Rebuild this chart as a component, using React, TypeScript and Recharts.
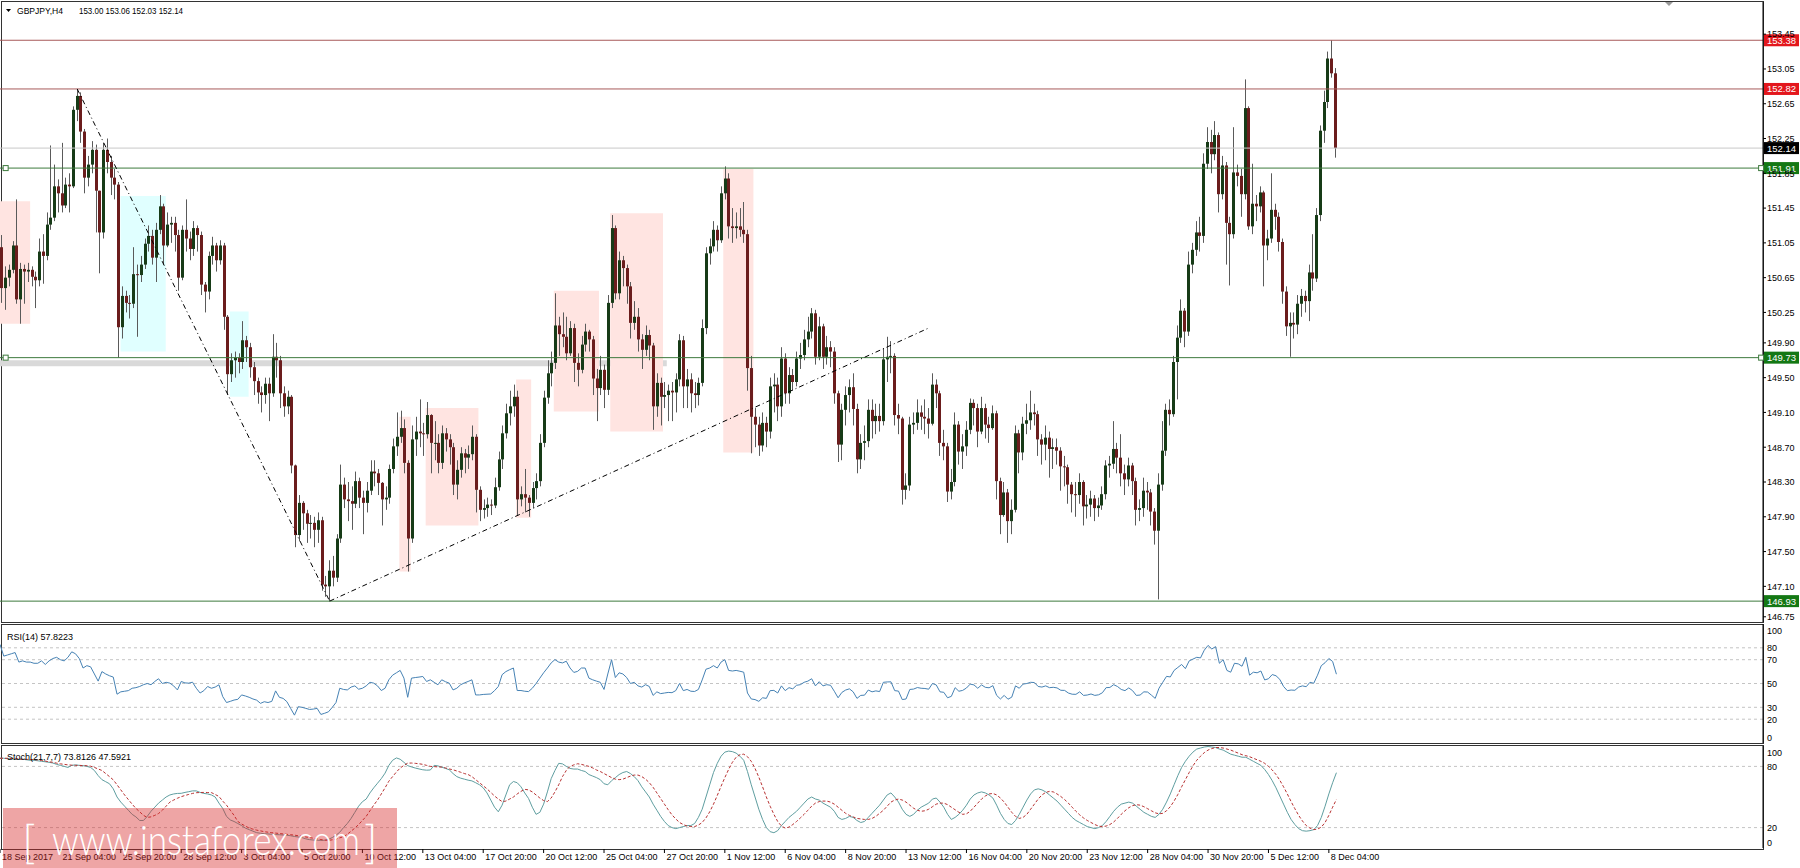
import React from "react";
import {
  ComposedChart,
  Bar,
  Line,
  XAxis,
  YAxis,
  ReferenceLine,
  ReferenceArea,
  ReferenceDot,
} from "recharts";

// GBPJPY H4, 18 Sep - 8 Dec 2017, MT4-style chart with RSI(14) and Stoch(21,7,7)

const FONT = "'Liberation Sans', Tahoma, Arial, sans-serif";
const SLOTS = 468; // bar slots across the plot, the right part stays empty
const BULL = "#173b17";
const BEAR = "#6b1d1d";
const WICK = "#5a5a5a";

const firstOpen = 151.0;

const closes = [
  150.53, 150.65, 150.74, 151.02, 150.40, 150.75, 150.72, 150.74, 150.66, 150.62,
  150.95, 150.90, 151.26, 151.34, 151.70, 151.62, 151.48, 151.72, 151.70, 152.58,
  152.74, 152.33, 151.80, 151.95, 152.12, 151.65, 151.17, 152.12, 151.98, 151.80,
  151.72, 150.08, 150.44, 150.36, 150.35, 150.69, 150.68, 150.80, 151.04, 151.13,
  150.88, 151.20, 151.47, 151.02, 151.26, 151.28, 151.14, 150.65, 151.20, 151.10,
  150.98, 151.22, 151.14, 150.57, 150.49, 150.90, 151.02, 150.85, 151.02, 150.20,
  149.54, 149.70, 149.73, 149.68, 149.93, 149.85, 149.62, 149.46, 149.33, 149.30,
  149.43, 149.32, 149.74, 149.70, 149.32, 149.17, 149.28, 148.49, 147.69, 148.06,
  147.94, 147.82, 147.83, 147.75, 147.86, 147.12, 147.10, 147.28, 147.20, 147.65,
  148.27, 148.10, 148.08, 148.05, 148.31, 148.12, 148.06, 148.20, 148.42, 148.40,
  148.29, 148.10, 148.12, 148.45, 148.71, 148.82, 148.92, 148.52, 147.65, 148.79,
  148.88, 148.86, 148.85, 149.07, 148.75, 148.75, 148.52, 148.86, 148.79, 148.70,
  148.27, 148.44, 148.63, 148.58, 148.62, 148.82, 148.21, 147.98, 148.00, 148.04,
  148.03, 148.24, 148.56, 148.86, 149.09, 149.17, 149.28, 148.10, 148.16, 148.12,
  148.06, 148.23, 148.31, 148.75, 149.27, 149.55, 149.67, 150.10, 150.00, 149.97,
  149.78, 150.07, 149.67, 149.59, 149.88, 150.03, 149.94, 149.49, 149.38, 149.59,
  149.36, 150.36, 151.22, 150.47, 150.85, 150.76, 150.55, 150.13, 150.20, 149.94,
  149.82, 149.99, 149.87, 149.17, 149.44, 149.28, 149.30, 149.35, 149.33, 149.48,
  149.93, 149.40, 149.48, 149.32, 149.30, 149.44, 150.07, 150.93, 151.01, 151.20,
  151.08, 151.62, 151.79, 151.24, 151.22, 151.24, 151.20, 151.15, 149.61, 149.05,
  148.96, 148.72, 148.98, 148.88, 149.40, 149.42, 149.17, 149.72, 149.32, 149.53,
  149.45, 149.72, 149.76, 149.94, 150.03, 150.24, 149.74, 150.09, 149.74, 149.85,
  149.80, 149.32, 148.73, 149.13, 149.30, 149.39, 149.14, 148.56, 148.75, 148.77,
  149.13, 149.00, 149.06, 149.00, 149.71, 149.74, 149.75, 149.07, 149.03, 148.21,
  148.26, 148.96, 148.98, 149.10, 149.05, 149.03, 148.97, 149.42, 149.32, 148.75,
  148.71, 148.19, 148.30, 148.96, 148.65, 148.71, 148.90, 149.21, 149.15, 148.88,
  149.15, 148.96, 148.92, 149.09, 148.31, 147.92, 148.18, 147.85, 147.98, 148.86,
  148.64, 148.97, 149.01, 149.10, 149.08, 148.79, 148.73, 148.81, 148.68, 148.70,
  148.66, 148.48, 148.47, 148.27, 148.16, 148.15, 148.30, 148.02, 148.04, 148.11,
  148.00, 148.03, 148.16, 148.49, 148.51, 148.68, 148.58, 148.40, 148.33, 148.49,
  148.31, 147.98, 148.00, 148.20, 148.18, 147.96, 147.74, 148.27, 148.66, 149.13,
  149.08, 149.68, 149.96, 150.27, 150.03, 150.80, 150.97, 151.17, 151.13, 151.96,
  152.21, 152.07, 152.29, 151.61, 151.94, 151.28, 151.15, 151.86, 151.82, 151.61,
  152.60, 151.24, 151.50, 151.47, 151.63, 151.02, 151.10, 151.43, 151.35, 151.06,
  150.49, 150.09, 150.13, 150.11, 150.35, 150.44, 150.38, 150.71, 150.64, 151.37,
  152.34, 152.67, 153.17, 153.00, 152.14,
];

const highs = [
  151.14, 150.78, 150.80, 151.07, 151.55, 150.82, 150.80, 150.82, 150.78, 150.72,
  151.10, 151.15, 151.40, 152.17, 151.95, 151.78, 152.20, 151.80, 151.85, 152.62,
  152.82, 152.78, 152.36, 152.05, 152.22, 152.18, 151.65, 152.20, 152.25, 152.05,
  151.90, 151.75, 150.55, 150.50, 150.45, 151.00, 150.80, 150.90, 151.10, 151.25,
  151.20, 151.28, 151.60, 151.50, 151.40, 151.35, 151.35, 151.20, 151.25, 151.55,
  151.18, 151.30, 151.25, 151.18, 150.60, 150.95, 151.12, 151.05, 151.08, 151.05,
  150.22, 149.78, 149.80, 149.78, 150.15, 149.98, 149.90, 149.68, 149.50, 149.40,
  149.50, 149.50, 150.00, 149.90, 149.75, 149.40, 149.35, 149.30, 148.50, 148.15,
  148.08, 147.98, 147.92, 147.90, 147.95, 147.90, 147.22, 147.40, 147.45, 147.70,
  148.50, 148.35, 148.30, 148.25, 148.42, 148.35, 148.20, 148.30, 148.55, 148.55,
  148.45, 148.30, 148.25, 148.50, 148.80, 149.10, 149.12, 149.02, 148.55, 148.95,
  149.05, 149.25, 148.98, 149.22, 149.08, 149.00, 148.85, 148.95, 148.92, 148.85,
  148.75, 148.55, 148.70, 148.68, 148.72, 148.95, 148.85, 148.25, 148.10, 148.12,
  148.10, 148.35, 148.65, 148.95, 149.20, 149.35, 149.42, 149.35, 148.25, 148.45,
  148.15, 148.30, 148.40, 148.85, 149.35, 149.70, 149.80, 150.47, 150.20, 150.25,
  150.20, 150.15, 150.12, 149.78, 149.98, 150.12, 150.05, 149.98, 149.60, 149.75,
  149.65, 150.45, 151.37, 151.25, 150.95, 150.90, 150.80, 150.60, 150.38, 150.30,
  150.00, 150.10, 150.05, 149.90, 149.55, 149.50, 149.45, 149.42, 149.45, 149.55,
  150.00, 149.98, 149.60, 149.55, 149.45, 149.50, 150.17, 151.00, 151.10, 151.30,
  151.25, 151.70, 151.93, 151.85, 151.45, 151.40, 151.45, 151.52, 151.20, 149.75,
  149.15, 149.05, 149.10, 149.05, 149.50, 149.55, 149.50, 149.85, 149.78, 149.62,
  149.60, 149.80, 149.90, 150.05, 150.20, 150.30, 150.28, 150.20, 150.12, 149.98,
  149.92, 149.85, 149.35, 149.20, 149.40, 149.48, 149.55, 149.20, 148.85, 148.95,
  149.25, 149.25, 149.20, 149.20, 149.84, 149.97, 149.92, 149.78, 149.20, 149.05,
  148.40, 149.05, 149.10, 149.25, 149.18, 149.25, 149.15, 149.55, 149.48, 149.35,
  148.90, 148.75, 148.45, 149.10, 149.00, 148.85, 149.00, 149.26, 149.25, 149.20,
  149.28, 149.20, 149.05, 149.18, 149.12, 148.35, 148.30, 148.22, 148.10, 148.95,
  148.90, 149.05, 149.20, 149.35, 149.20, 149.12, 148.85, 148.95, 148.88, 148.80,
  148.80, 148.70, 148.60, 148.50, 148.30, 148.30, 148.40, 148.32, 148.15, 148.20,
  148.15, 148.12, 148.25, 148.55, 148.60, 149.00, 148.75, 148.85, 148.50, 148.58,
  148.52, 148.35, 148.10, 148.35, 148.30, 148.22, 148.00, 148.40, 149.00, 149.20,
  149.25, 149.75, 150.10, 150.40, 150.30, 150.95, 151.05, 151.30, 151.35, 152.08,
  152.38, 152.35, 152.45, 152.32, 152.05, 151.98, 151.35, 152.38, 151.95, 151.90,
  152.93, 152.62, 151.96, 151.60, 151.70, 151.65, 151.20, 151.85, 151.50, 151.40,
  151.10, 150.55, 150.25, 150.25, 150.45, 150.52, 150.50, 150.80, 151.15, 151.45,
  152.40, 152.80, 153.25, 153.38, 153.06,
];

const lows = [
  150.36, 150.28, 150.55, 150.70, 150.35, 150.12, 150.35, 150.60, 150.55, 150.30,
  150.55, 150.58, 150.85, 151.20, 151.30, 151.40, 151.40, 151.45, 151.40, 151.68,
  152.45, 152.20, 151.62, 151.70, 151.85, 151.17, 150.70, 151.10, 151.85, 151.60,
  151.55, 149.73, 149.95, 150.25, 150.18, 150.30, 149.97, 150.60, 150.75, 150.95,
  150.80, 150.60, 151.15, 150.80, 151.00, 151.05, 150.95, 150.50, 150.62, 150.95,
  150.85, 150.90, 150.95, 150.45, 150.25, 150.40, 150.80, 150.72, 150.80, 150.05,
  149.30, 149.45, 149.50, 149.55, 149.60, 149.68, 149.50, 149.30, 149.20, 149.10,
  149.20, 149.00, 149.28, 149.50, 149.15, 149.05, 149.08, 148.40, 147.55, 147.62,
  147.75, 147.60, 147.65, 147.55, 147.60, 147.05, 146.98, 146.93, 147.10, 147.15,
  147.60, 148.00, 147.85, 147.75, 148.00, 148.00, 147.70, 147.95, 148.15, 148.25,
  148.15, 147.80, 147.98, 148.05, 148.40, 148.60, 148.75, 148.40, 147.27, 147.60,
  148.60, 148.70, 148.60, 148.80, 148.40, 148.55, 148.40, 148.45, 148.65, 148.50,
  148.15, 148.10, 148.35, 148.40, 148.45, 148.55, 147.95, 147.85, 147.88, 147.90,
  147.92, 148.00, 148.20, 148.45, 148.80, 148.95, 149.05, 147.92, 148.02, 147.95,
  147.90, 148.00, 148.10, 148.25, 148.70, 149.20, 149.40, 149.60, 149.75, 149.85,
  149.70, 149.75, 149.45, 149.40, 149.55, 149.80, 149.80, 149.30, 149.00, 149.30,
  149.15, 149.30, 150.30, 150.40, 150.40, 150.55, 150.35, 149.95, 150.05, 149.80,
  149.60, 149.75, 149.70, 148.90, 149.05, 148.95, 149.15, 149.00, 149.00, 149.10,
  149.40, 149.15, 149.15, 149.10, 149.15, 149.18, 149.40, 150.00, 150.80, 150.95,
  150.95, 151.05, 151.55, 151.10, 151.05, 151.10, 151.12, 151.05, 149.35, 148.63,
  148.70, 148.60, 148.65, 148.70, 148.80, 149.10, 149.00, 149.05, 149.20, 149.20,
  149.35, 149.40, 149.60, 149.70, 149.85, 149.95, 149.65, 149.70, 149.60, 149.65,
  149.62, 149.20, 148.53, 148.55, 148.95, 149.10, 148.95, 148.40, 148.45, 148.55,
  148.70, 148.80, 148.85, 148.88, 148.95, 149.45, 149.55, 148.95, 148.85, 148.04,
  148.10, 148.20, 148.85, 148.90, 148.90, 148.85, 148.80, 148.95, 149.15, 148.60,
  148.55, 148.07, 148.10, 148.25, 148.50, 148.45, 148.60, 148.85, 148.95, 148.70,
  148.85, 148.80, 148.75, 148.90, 148.10, 147.70, 147.90, 147.60, 147.70, 147.95,
  148.40, 148.55, 148.85, 148.90, 148.95, 148.60, 148.50, 148.55, 148.35, 148.45,
  148.50, 148.20, 148.25, 148.05, 147.95, 147.90, 148.05, 147.80, 147.88, 147.90,
  147.85, 147.90, 147.98, 148.10, 148.35, 148.45, 148.40, 148.25, 148.15, 148.25,
  148.15, 147.80, 147.85, 147.90, 147.98, 147.80, 147.58, 146.95, 148.20, 148.60,
  148.95, 149.05, 149.25, 149.90, 149.85, 149.98, 150.70, 150.90, 150.95, 151.05,
  151.90, 151.85, 152.00, 151.40, 151.55, 150.80, 150.56, 151.10, 151.70, 151.35,
  151.55, 151.20, 151.15, 151.30, 151.40, 150.55, 150.85, 151.05, 151.20, 150.95,
  150.35, 149.98, 149.74, 149.95, 150.00, 150.20, 150.25, 150.15, 150.50, 150.60,
  151.30, 152.20, 152.60, 152.95, 152.03,
];

const rsiValues = [
  82.8, 73, 74, 75, 76, 68, 69, 68, 68, 67,
  67, 69, 66, 69, 71, 72, 70, 69, 72, 76.6,
  75, 71, 63, 65, 64, 58, 52, 60, 58, 56.5,
  55.4, 41, 43, 43.5, 44, 46, 46.5, 47.5, 49, 50,
  49, 51.7, 54, 50, 51, 50.3, 48, 44.6, 51.7, 50.5,
  50.3, 51.1, 46, 42, 44, 47.5, 46, 47, 48.9, 39,
  34, 35, 36.1, 36.7, 40.4, 39.5, 38.4, 37, 36, 33.3,
  34.7, 34, 35, 43.8, 38.4, 37.5, 34.7, 29, 23.4, 30.5,
  30, 29.1, 28.2, 28.5, 29.1, 24, 25, 26.2, 29.9, 34,
  46, 45, 44.6, 47, 48, 45.2, 46, 48, 51, 50.3,
  48, 44.1, 46, 53.1, 57, 59, 61, 54.5, 38.4, 54.5,
  55, 55.4, 55.9, 51.7, 53.1, 51, 48.9, 53.1, 51.5, 50.3,
  44.6, 46, 48.9, 50.5, 51.7, 53.1, 40.4, 40.4, 40.8, 41,
  41.2, 44, 47.5, 57.4, 60, 61.6, 63, 44.1, 44.1, 43.5,
  43.2, 46, 50, 54.5, 59, 63, 67.3, 70.1, 68, 67.3,
  68.7, 63, 59.3, 60.2, 63, 63, 54.5, 53.1, 52, 51,
  45, 58, 70, 55, 59, 58, 55, 50, 51, 48,
  47, 49, 47.5, 40, 43, 41.5, 42, 42.5, 42.3, 44,
  50, 44, 45, 43.5, 43.3, 45, 53, 62, 63, 65,
  63, 68, 70, 61, 60.5, 61, 60.3, 59.5, 42, 37,
  36.5, 35, 38, 37.5, 44, 44.2, 42, 48, 44, 46.5,
  45.5, 48.5, 49, 51, 52, 54, 48, 51.5, 48, 49,
  48.5, 43.5, 38, 42.5, 44.5, 45.5, 43, 37.5, 40, 40.2,
  44.5, 43, 43.8, 43.2, 51, 51.3, 51.4, 44, 43.6, 36.5,
  37, 45, 45.3, 46.6, 46, 45.8, 45.2, 50, 48.8, 43,
  42.6, 38, 39.2, 46.5, 43.5, 44.2, 46.2, 49.5, 48.8, 46,
  48.8, 46.8, 46.4, 48.2, 40, 37, 40, 36.8, 38.5, 48,
  46, 49.5, 50, 51, 50.8, 47.5, 47, 48, 46.5, 46.8,
  46.3, 44.3, 44.2, 42, 41, 40.9, 43, 40, 40.3, 41.2,
  40, 40.5, 42.2, 46.5, 46.7, 49, 47.5, 45, 44, 46.3,
  44, 40, 40.3, 43, 42.8, 40.2, 37.5, 46, 51, 56,
  55.5, 61, 63.5, 66, 62.5, 69, 70.5, 72, 71.5, 78,
  82, 79, 81, 67, 70, 61, 59.5, 67, 66.5, 64.5,
  72, 57, 59.5, 59, 60.5, 53, 54, 57.5, 56.5, 53.5,
  47.5, 44, 44.5, 44.3, 47, 48, 47.3, 51, 50.2, 57,
  65, 67.5, 71, 68.5, 57.82,
];

const stochMain = [
  88, 88, 87.5, 87.5, 87, 87, 87, 86.5, 86, 86,
  85.5, 85, 84.5, 84, 83.3, 82, 81, 80, 79, 81,
  81.5, 81, 80.7, 80, 79, 76, 71, 67, 65, 63,
  58, 50, 45, 41, 37, 33, 30.5, 27, 27, 31,
  36, 40, 44, 47, 50, 52, 53, 53.5, 53.6, 54.5,
  55.2, 56, 56, 54.5, 53.5, 53, 52, 50, 44, 38.8,
  31, 27.5, 26, 24, 22, 19.5, 18, 16.5, 15, 14.5,
  14, 13.8, 13.5, 13.2, 13, 12.7, 12.5, 12, 11.3, 10.8,
  10.2, 9, 8.2, 7.8, 7.6, 7.5, 7.6, 8.5, 10.2, 12.5,
  15.5, 20, 24, 29, 35, 41, 45.4, 48, 54, 59,
  63.5, 68, 73.4, 81, 86, 88.3, 87, 84, 80.7, 79.5,
  78.4, 77.5, 76.7, 76.3, 76.5, 81, 80.5, 79.3, 78, 76.7,
  73, 70, 68.5, 67.5, 66.5, 65.8, 64, 62, 59, 54,
  47, 40, 35.5, 42, 52, 62, 65.2, 64, 60, 54,
  48.6, 40, 33, 35, 43, 55, 68, 76, 83, 82.5,
  80, 78, 77.4, 77.4, 76, 75, 72, 70.5, 69, 67,
  63, 62, 66, 69, 72, 74, 75, 73, 70, 66,
  60, 55, 50, 43, 37, 31, 26, 22, 20, 19,
  20, 21, 22, 22, 24, 30, 38, 50, 62, 74,
  83, 90, 94, 95, 94.5, 93, 90, 86, 75, 62,
  50, 38, 28, 20, 16, 15, 17, 22, 26, 30,
  33, 36, 40, 44, 48, 50, 48, 47, 44, 42,
  40, 36, 30, 28, 29, 31, 30, 27, 25, 26,
  30, 34, 38, 42, 47, 52, 54, 50, 45, 38,
  33, 31, 33, 37, 40, 42, 44, 48, 49, 45,
  40, 33, 28, 30, 33, 37, 42, 48, 52, 54,
  55, 54, 52, 49, 42, 34, 28, 24, 23, 27,
  33, 40, 47, 53, 57, 58, 57, 55, 52, 49,
  46, 42, 38, 34, 30, 27, 25, 23, 21, 20,
  19, 20, 22, 26, 31, 36, 40, 43, 44, 45,
  44, 41, 38, 35, 33, 31, 30, 33, 38, 45,
  53, 62, 71, 79, 85, 90, 94, 97, 98, 99,
  99.5, 99, 98.5, 97, 96, 94, 92, 91, 90, 89,
  89, 87, 85, 83, 81, 77, 72, 66, 59, 51,
  43, 35, 28, 23, 19, 17, 16.5, 17, 18, 22,
  30, 41, 53, 64, 73.81,
];

const stochSignal = [
  88, 88, 88, 87.8, 87.5, 87.3, 87, 86.9, 86.8, 86.6,
  86.3, 85.8, 85.2, 84.5, 84, 83.2, 82.5, 82, 81.5, 81.2,
  81, 81, 80.8, 80.7, 80.2, 79, 77.5, 76, 73, 70,
  66.8, 62, 57, 52, 47.5, 43, 38.8, 35.5, 32, 30,
  30.5, 32, 33.8, 37, 41, 45, 47, 48.8, 50.3, 51.5,
  52.5, 53.5, 54.2, 54.4, 54.5, 54.4, 54.3, 52.5, 50.5, 46,
  42, 37, 32, 26, 23.5, 21.5, 19.5, 18.5, 17.5, 16.8,
  16, 15.5, 15, 14.6, 14.2, 13.8, 13.4, 13, 12.6, 12,
  11.4, 10.8, 10.2, 9.6, 9, 8.3, 7.7, 7.5, 8, 8.8,
  10, 11, 13.5, 16.5, 19.5, 23, 27, 31, 36.5, 42,
  47, 53, 59, 65.5, 70, 74.5, 78.4, 81, 83.2, 83.3,
  83, 82.6, 82, 81, 80, 79.8, 79.5, 79.3, 78.5, 77.5,
  76.7, 75.5, 74.3, 73, 72, 70, 67, 64, 61, 58,
  54.5, 51, 48, 45.5, 46, 48, 50, 53, 55.5, 57.5,
  57, 55, 52, 49, 46.5, 45.5, 49, 55, 62, 70,
  76, 80, 81.5, 82.6, 82, 81, 80, 78.5, 76.5, 75,
  73, 71, 69, 67.5, 67, 67.5, 69, 70.5, 71.5, 71.5,
  70, 67.5, 64, 59.5, 54, 48.5, 43, 37.5, 32.5, 28.5,
  25, 23, 21.5, 21, 21, 22.5, 25, 29.5, 35.5, 43,
  51.5, 60.5, 69, 77, 84, 89, 91.5, 92, 89.5, 85,
  78, 69.5, 60, 50, 41, 33, 26, 21.5, 19.5, 20.5,
  23, 26, 29.5, 33, 37, 41, 44, 45.5, 46, 46,
  45, 43, 40, 37, 34, 32, 30.5, 29, 28.5, 28,
  28, 29, 31, 34, 37, 41, 45, 47, 48, 47,
  45, 42, 39, 37, 36, 36.5, 38, 40.5, 43, 44,
  44, 42.5, 40, 37.5, 35, 33, 33.5, 36, 40, 44,
  48, 51, 53, 53.5, 52, 49, 45, 40, 35, 31,
  29, 30, 33, 38, 43, 48, 52, 54.5, 55.5, 55,
  53, 50.5, 47.5, 44, 40, 36, 32.5, 29.5, 27, 25,
  23, 21.5, 21, 21.5, 23, 25.5, 29, 33, 36.5, 39.5,
  41.5, 42.5, 42, 40.5, 38.5, 36.5, 34.5, 33.5, 34, 36.5,
  40.5, 46, 52.5, 60, 67, 74, 80.5, 86, 90, 93.5,
  96, 97.5, 98.5, 98.5, 98, 97, 96, 94.5, 93, 91.5,
  90.5, 89.5, 88, 86.5, 85, 83, 80, 76.5, 72, 66.5,
  60, 53, 45.5, 38.5, 32, 26.5, 22, 19.5, 18, 18.5,
  20.5, 25, 32, 40, 47.59,
];

const tickBars = [0, 16, 32, 48, 64, 80, 96, 112, 128, 144, 160, 176, 192, 208, 224, 240, 256, 272, 288, 304, 320, 336, 352];
const tickLabels = [
  "18 Sep 2017", "21 Sep 04:00", "25 Sep 20:00", "28 Sep 12:00", "3 Oct 04:00", "5 Oct 20:00",
  "10 Oct 12:00", "13 Oct 04:00", "17 Oct 20:00", "20 Oct 12:00", "25 Oct 04:00", "27 Oct 20:00",
  "1 Nov 12:00", "6 Nov 04:00", "8 Nov 20:00", "13 Nov 12:00", "16 Nov 04:00", "20 Nov 20:00",
  "23 Nov 12:00", "28 Nov 04:00", "30 Nov 20:00", "5 Dec 12:00", "8 Dec 04:00",
];

const priceTicks = [153.45, 153.05, 152.65, 152.25, 151.85, 151.45, 151.05, 150.65, 150.25, 149.9, 149.5, 149.1, 148.7, 148.3, 147.9, 147.5, 147.1, 146.75];
const rsiTicks = [0, 20, 30, 50, 70, 80, 100];
const rsiLevels = [80, 70, 50, 30, 20];
const stochTicks = [0, 20, 80, 100];
const stochLevels = [80, 20];

const resistanceLevels = [153.38, 152.82];
const supportLevels = [151.91, 149.73, 146.93];
const lastPrice = 152.14;

// [startBar, endBar, low, high]
const pinkZones = [
  [0, 7, 150.12, 151.53],
  [106, 108, 147.27, 149.05],
  [113, 126, 147.8, 149.15],
  [137, 140, 147.89, 149.48],
  [147, 158, 149.11, 150.5],
  [162, 175, 148.88, 151.39],
  [192, 199, 148.64, 151.9],
];
const cyanZones = [
  [32, 43, 149.8, 151.59],
  [61, 65, 149.28, 150.26],
];
const grayBand = [0, 176, 149.63, 149.7];

// [bar1, price1, bar2, price2]
const trendLines = [
  [20, 152.82, 87, 146.93],
  [87, 146.93, 246, 150.07],
];

const rows = Array.from({ length: SLOTS }, (_, i) => {
  if (i >= closes.length) return { i };
  const open = i === 0 ? firstOpen : closes[i - 1];
  const close = closes[i];
  const high = Math.max(highs[i], open, close);
  const low = Math.min(lows[i], open, close);
  return {
    i,
    open,
    close,
    high,
    low,
    range: [low, high],
    rsi: rsiValues[i],
    k: stochMain[i],
    d: stochSignal[i],
  };
});

function Candle(props: any) {
  const { x, y, width, height, payload } = props;
  if (!payload || payload.close == null) return null;
  const top = Math.min(y, y + height);
  const h = Math.abs(height);
  const { open, close, high, low } = payload;
  const k = high > low ? h / (high - low) : 0;
  const bodyTop = top + (high - Math.max(open, close)) * k;
  const bodyBot = top + (high - Math.min(open, close)) * k;
  const left = Math.round(x + width / 2 - 1.5);
  const up = close >= open;
  return (
    <g>
      <line x1={left + 1.5} x2={left + 1.5} y1={top} y2={top + h} stroke={WICK} strokeWidth={1} />
      <rect x={left} y={bodyTop} width={3} height={Math.max(1, bodyBot - bodyTop)} fill={up ? BULL : BEAR} />
    </g>
  );
}

function PriceTag({ viewBox, text, bg }: any) {
  if (!viewBox) return null;
  const x = viewBox.x + viewBox.width + 1;
  const y = viewBox.y;
  return (
    <g>
      <rect x={x} y={y - 6} width={35} height={12} fill={bg} />
      <text x={x + 3} y={y + 3.5} fill="#fff" fontSize={9.5} fontFamily={FONT}>
        {text}
      </text>
    </g>
  );
}

function PriceTick({ x, y, payload }: any) {
  return (
    <g>
      <line x1={x - 4} x2={x - 1} y1={y} y2={y} stroke="#000" />
      <text x={x} y={y + 3.3} fontSize={9} fontFamily={FONT} fill="#000">
        {Number(payload.value).toFixed(2)}
      </text>
    </g>
  );
}

function OscTick({ x, y, payload }: any) {
  const v = payload.value;
  const dy = v === 100 ? 7 : v === 0 ? -5 : 0;
  return (
    <text x={x} y={y + dy + 3.3} fontSize={9} fontFamily={FONT} fill="#000">
      {v}
    </text>
  );
}

function TimeTick({ x, y, payload }: any) {
  const idx = tickBars.indexOf(payload.value);
  if (idx < 0) return null;
  return (
    <g>
      <line x1={x} x2={x} y1={y + 1} y2={y + 5} stroke="#000" />
      <text x={x + 2} y={y + 12} fontSize={9} fontFamily={FONT} fill="#000">
        {tickLabels[idx]}
      </text>
    </g>
  );
}

const squareDot = (stroke: string) => (p: any) =>
  <rect x={p.cx - 2.5} y={p.cy - 2.5} width={5} height={5} fill="#fff" stroke={stroke} />;

const frame = (top: number, height: number): React.CSSProperties => ({
  position: "absolute",
  left: 1,
  top,
  width: 1763,
  height,
  border: "1px solid #333",
  boxSizing: "border-box",
});

export default function App() {
  const margin = { top: 0, right: 0, bottom: 0, left: 0 };
  return (
    <div
      style={{
        position: "absolute",
        left: 0,
        top: 0,
        width: 1800,
        height: 868,
        background: "#fff",
        overflow: "hidden",
        fontFamily: FONT,
      }}
    >
      <div style={frame(1, 622)} />
      <div style={frame(624, 120)} />
      <div style={frame(745, 105)} />

      <div style={{ position: "absolute", left: 0, top: 2 }}>
        <ComposedChart width={1800} height={620} data={rows} margin={margin}>
          <XAxis dataKey="i" hide />
          <YAxis
            orientation="right"
            width={37}
            domain={[146.69, 153.82]}
            allowDataOverflow
            ticks={priceTicks}
            interval={0}
            tickSize={3}
            tickMargin={1}
            tickLine={false}
            axisLine={{ stroke: "#000" }}
            tick={<PriceTick />}
          />
          <ReferenceArea
            x1={grayBand[0]}
            x2={grayBand[1]}
            y1={grayBand[2]}
            y2={grayBand[3]}
            fill="#d9d9d9"
            fillOpacity={1}
            stroke="none"
          />
          {pinkZones.map((z, n) => (
            <ReferenceArea key={"p" + n} x1={z[0]} x2={z[1]} y1={z[2]} y2={z[3]} fill="#ffe4e1" fillOpacity={1} stroke="none" />
          ))}
          {cyanZones.map((z, n) => (
            <ReferenceArea key={"c" + n} x1={z[0]} x2={z[1]} y1={z[2]} y2={z[3]} fill="#e0ffff" fillOpacity={1} stroke="none" />
          ))}
          {resistanceLevels.map((p) => (
            <ReferenceLine
              key={"r" + p}
              y={p}
              stroke="#a85a5a"
              strokeWidth={1}
              label={(lp: any) => <PriceTag viewBox={lp.viewBox} text={p.toFixed(2)} bg="#e3171d" />}
            />
          ))}
          <ReferenceLine
            y={lastPrice}
            stroke="#c8c8c8"
            label={(lp: any) => <PriceTag viewBox={lp.viewBox} text={lastPrice.toFixed(2)} bg="#000" />}
          />
          {supportLevels.map((p) => (
            <ReferenceLine
              key={"s" + p}
              y={p}
              stroke="#3d7a3d"
              strokeWidth={1}
              label={(lp: any) => <PriceTag viewBox={lp.viewBox} text={p.toFixed(2)} bg="#147814" />}
            />
          ))}
          <Bar dataKey="range" shape={<Candle />} isAnimationActive={false} />
          {trendLines.map((t, n) => (
            <ReferenceLine
              key={"t" + n}
              segment={[
                { x: t[0], y: t[1] },
                { x: t[2], y: t[3] },
              ]}
              stroke="#000"
              strokeWidth={1}
              strokeDasharray="5 3 1 3"
            />
          ))}
          {supportLevels.slice(0, 2).map((p) => (
            <ReferenceDot key={"dl" + p} x={1} y={p} r={2.5} shape={squareDot("#3d7a3d")} />
          ))}
          {supportLevels.slice(0, 2).map((p) => (
            <ReferenceDot key={"dr" + p} x={SLOTS - 1} y={p} r={2.5} shape={squareDot("#3d7a3d")} />
          ))}
        </ComposedChart>
      </div>

      <div style={{ position: "absolute", left: 0, top: 624 }}>
        <ComposedChart width={1800} height={119} data={rows} margin={margin}>
          <XAxis dataKey="i" hide />
          <YAxis
            orientation="right"
            width={37}
            domain={[0, 100]}
            ticks={rsiTicks}
            interval={0}
            tickSize={3}
            tickMargin={1}
            tickLine={false}
            axisLine={{ stroke: "#000" }}
            tick={<OscTick />}
          />
          {rsiLevels.map((v) => (
            <ReferenceLine key={"rl" + v} y={v} stroke="#c4c4c4" strokeDasharray="3 3" />
          ))}
          <Line dataKey="rsi" stroke="#4682b4" strokeWidth={1} dot={false} isAnimationActive={false} />
        </ComposedChart>
      </div>

      <div style={{ position: "absolute", left: 0, top: 746 }}>
        <ComposedChart width={1800} height={122} data={rows} margin={margin}>
          <XAxis
            dataKey="i"
            ticks={tickBars}
            interval={0}
            height={20}
            tickSize={0}
            tickMargin={0}
            tickLine={false}
            axisLine={false}
            tick={<TimeTick />}
          />
          <YAxis
            orientation="right"
            width={37}
            domain={[0, 100]}
            ticks={stochTicks}
            interval={0}
            tickSize={3}
            tickMargin={1}
            tickLine={false}
            axisLine={{ stroke: "#000" }}
            tick={<OscTick />}
          />
          {stochLevels.map((v) => (
            <ReferenceLine key={"sl" + v} y={v} stroke="#c4c4c4" strokeDasharray="3 3" />
          ))}
          <Line dataKey="k" stroke="#5f9ea0" strokeWidth={1} dot={false} isAnimationActive={false} />
          <Line dataKey="d" stroke="#b83232" strokeWidth={1} strokeDasharray="3 2" dot={false} isAnimationActive={false} />
        </ComposedChart>
      </div>

      <svg
        width={1800}
        height={868}
        style={{ position: "absolute", left: 0, top: 0, pointerEvents: "none" }}
      >
        <polygon points="6,9 11,9 8.5,12" fill="#000" />
        <text x={17} y={13.5} fontSize={9.5} fontFamily={FONT} fill="#000" textLength={46} lengthAdjust="spacingAndGlyphs">
          GBPJPY,H4
        </text>
        <text x={79} y={13.5} fontSize={9.5} fontFamily={FONT} fill="#000" textLength={104} lengthAdjust="spacingAndGlyphs">
          153.00 153.06 152.03 152.14
        </text>
        <polygon points="1665,2 1673,2 1669,6" fill="#9a9a9a" />
        <text x={7} y={640} fontSize={9} fontFamily={FONT} fill="#000">RSI(14) 57.8223</text>
        <text x={7} y={760} fontSize={9} fontFamily={FONT} fill="#000">Stoch(21,7,7) 73.8126 47.5921</text>

        <rect x={3} y={808} width={394} height={60} fill="rgb(214,40,40)" fillOpacity={0.42} />
        <text x={22} y={858} fontSize={46} fontFamily="Lato, 'Open Sans', sans-serif" fontWeight={300} fill="#fff">[</text>
        <text
          x={52}
          y={855}
          fontSize={41}
          fontFamily="Lato, 'Open Sans', sans-serif"
          fontWeight={300}
          fill="#fff"
          textLength={308}
          lengthAdjust="spacingAndGlyphs"
        >
          www.instaforex.com
        </text>
        <text x={364} y={858} fontSize={46} fontFamily="Lato, 'Open Sans', sans-serif" fontWeight={300} fill="#fff">]</text>
      </svg>
    </div>
  );
}
